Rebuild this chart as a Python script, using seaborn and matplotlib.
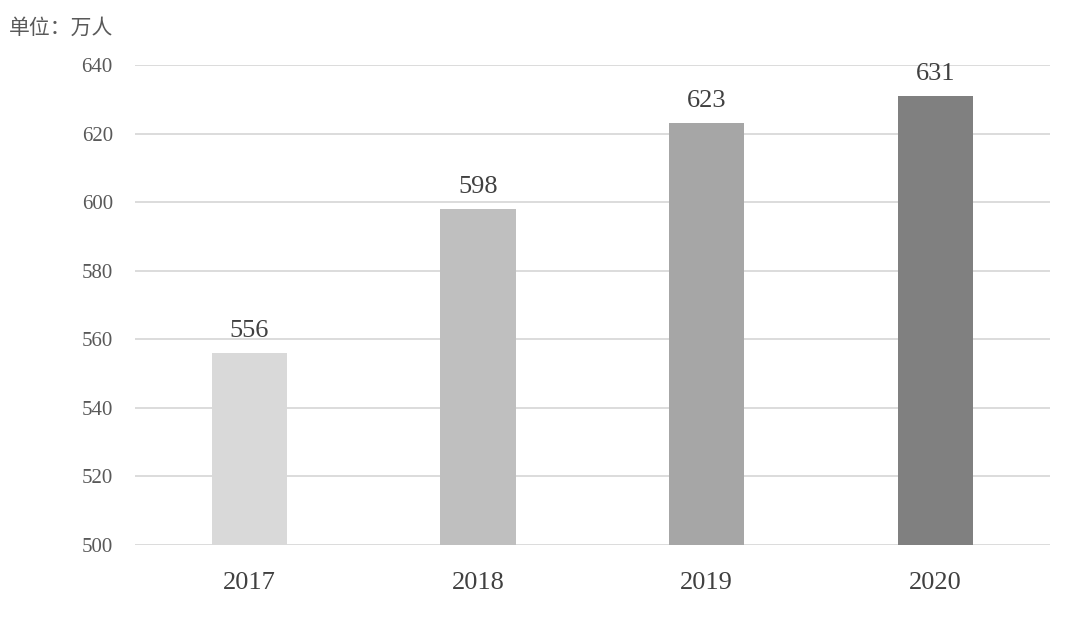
import pandas as pd
import matplotlib.pyplot as plt
import seaborn as sns

years = ["2017", "2018", "2019", "2020"]
values = [556, 598, 623, 631]
bar_colors = ["#d9d9d9", "#bfbfbf", "#a6a6a6", "#808080"]
y_ticks = [500, 520, 540, 560, 580, 600, 620, 640]

df = pd.DataFrame({"year": years, "value": values})

sns.set_theme(style="white")
plt.rcParams["font.family"] = ["Liberation Serif", "Noto Sans CJK SC", "DejaVu Sans"]

fig = plt.figure(figsize=(10.8, 6.19), dpi=100)
ax = fig.add_axes([0.125, 0.12, 0.847, 0.775])

sns.barplot(data=df, x="year", y="value", hue="year", palette=bar_colors,
            width=0.33, legend=False, ax=ax, zorder=3, linewidth=0)

ax.set_ylim(500, 640)
ax.set_xlim(-0.5, 3.5)
ax.set_yticks(y_ticks)
ax.yaxis.grid(True, color="#d9d9d9", linewidth=1.3, zorder=0)
ax.set_axisbelow(True)
for s in ax.spines.values():
    s.set_visible(False)
ax.tick_params(axis="y", length=0, pad=16, labelsize=15, labelcolor="#595959")
ax.tick_params(axis="x", length=0, pad=20, labelsize=19, labelcolor="#404040")
ax.set_xlabel("")
ax.set_ylabel("")

for i, v in enumerate(values):
    ax.annotate(str(v), (i, v), xytext=(0, 8), textcoords="offset points",
                ha="center", va="bottom", fontsize=19, color="#404040")

fig.text(0.008, 0.955, "单位：万人", fontsize=15, color="#595959",
         family=["Noto Sans CJK SC", "DejaVu Sans"], va="center")

fig.savefig("out.png", dpi=100, facecolor="white")
